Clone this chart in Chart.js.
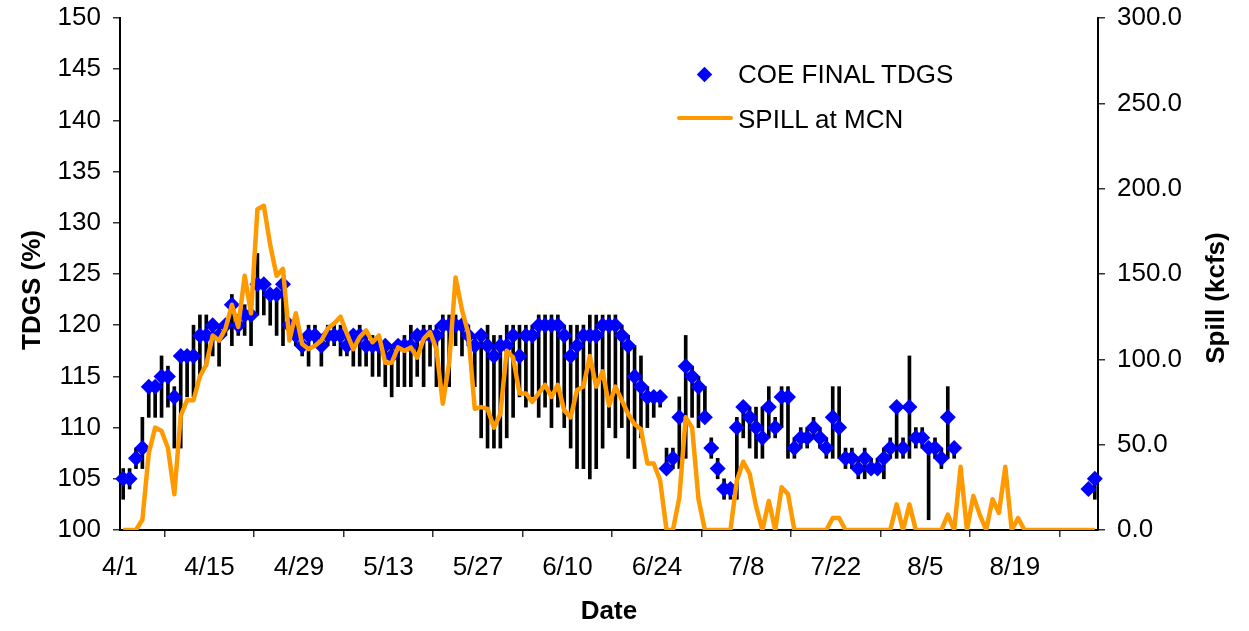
<!DOCTYPE html>
<html>
<head>
<meta charset="utf-8">
<script src="https://cdn.jsdelivr.net/npm/chart.js@4.4.1/dist/chart.umd.min.js"></script>
<style>
  html, body { margin: 0; padding: 0; background: #fff; }
  #wrap { position: relative; width: 1249px; height: 631px; }
  #legend, .titulo { font-family: "Liberation Sans", Arial, sans-serif; color: #000; }
  #legend { position: absolute; left: 0; top: 0; font-size: 26px; }
  #legend .txt { position: absolute; white-space: nowrap; line-height: 26px; }
  .diamond { position: absolute; width: 11px; height: 11px; background: #0000ff; transform: rotate(45deg); }
  .swatch { position: absolute; width: 56px; height: 4px; background: #ff9900; border-radius: 2px; }
  .titulo { position: absolute; font-size: 26px; font-weight: bold; white-space: nowrap; line-height: 30px;
            width: 300px; height: 30px; text-align: center; transform: rotate(-90deg); }
</style>
</head>
<body>
<div id="wrap">
  <canvas id="grafico" width="1249" height="631"></canvas>
  <div id="legend">
    <div class="diamond" style="left:699px; top:69px;"></div>
    <div class="txt" style="left:738px; top:61px;">COE FINAL TDGS</div>
    <div class="swatch" style="left:677px; top:116px;"></div>
    <div class="txt" style="left:738px; top:106px;">SPILL at MCN</div>
  </div>
  <div class="titulo" style="left:-119px; top:275px;">TDGS (%)</div>
  <div class="titulo" style="left:1065px; top:283px;">Spill (kcfs)</div>
</div>
<script>
// ====== DADOS ======
// dias contados a partir de 4/1 (indice 0 = 4/1)
const xTickLabels = ['4/1', '4/15', '4/29', '5/13', '5/27', '6/10', '6/24', '7/8', '7/22', '8/5', '8/19'];

// TDGS diario (%), null = sem dado
const tdgs = [
  105, 105, 107, 108, 114, 114, 115, 115, 113, 117,
  117, 117, 119, 119, 120, 119, 120, 122, 120, 121,
  121, 124, 124, 123, 123, 124, 120, 119, 118, 119,
  119, 118, 119, 119, 119, 118, 119, 119, 118, 118,
  118, 118, 117, 118, 118, 118, 119, 119, 119, 119,
  120, 120, 120, 120, 119, 118, 119, 118, 117, 118,
  118, 119, 117, 119, 119, 120, 120, 120, 120, 119,
  117, 118, 119, 119, 119, 120, 120, 120, 119, 118,
  115, 114, 113, 113, 113, 106, 107, 111, 116, 115,
  114, 111, 108, 106, 104, 104, 110, 112, 111, 110,
  109, 112, 110, 113, 113, 108, 109, 109, 110, 109,
  108, 111, 110, 107, 107, 106, 107, 106, 106, 107,
  108, 112, 108, 112, 109, 109, 108, 108, 107, 111,
  108, null, null, null, null, null, null, null, null, null,
  null, null, null, null, null, null, null, null, null, null,
  null, 104, 105
];

// minimo e maximo do dia (barras pretas)
const tdgsMin = [
  103, 104, 106, 106, 111, 111, 111, 112, 108, 108,
  113, 113, 115, 116, 117, 116, 119, 118, 119, 119,
  118, 121, 121, 120, 119, 118, 119, 118, 117, 116,
  118, 116, 118, 118, 117, 117, 116, 116, 116, 115,
  115, 114, 113, 114, 114, 114, 115, 114, 116, 114,
  114, 114, 118, 117, 118, 114, 109, 108, 108, 108,
  109, 111, 113, 112, 113, 111, 112, 110, 112, 110,
  108, 106, 106, 105, 106, 108, 110, 109, 110, 107,
  106, 109, 110, 111, 112, 106, 106, 106, 107, 111,
  110, 111, 107, 105, 103, 103, 103, 109, 108, 107,
  107, 109, 109, 110, 107, 107, 108, 108, 109, 108,
  107, 107, 107, 106, 106, 105, 105, 106, 106, 105,
  107, 107, 107, 107, 108, 108, 101, 107, 106, 107,
  107, null, null, null, null, null, null, null, null, null,
  null, null, null, null, null, null, null, null, null, null,
  null, 103.5, 103
];
const tdgsMax = [
  106, 106, 108, 111, 114, 114, 117, 116, 114, 117,
  117, 120, 121, 121, 120, 120, 120, 123, 120, 122,
  122, 127, 124, 123, 123, 124, 120, 120, 119, 120,
  120, 119, 120, 120, 120, 119, 119, 120, 119, 119,
  119, 118, 118, 118, 119, 120, 119, 120, 120, 120,
  121, 121, 121, 120, 120, 119, 119, 120, 119, 119,
  120, 120, 120, 120, 120, 121, 121, 121, 121, 120,
  120, 120, 120, 121, 121, 121, 121, 121, 120, 119,
  118, 117, 114, 113, 113, 108, 108, 113, 119, 116,
  115, 114, 109, 107, 105, 104, 111, 112, 112, 112,
  112, 114, 111, 114, 114, 109, 110, 110, 111, 110,
  109, 114, 114, 108, 108, 107, 108, 107, 107, 108,
  109, 112, 109, 117, 110, 110, 108, 109, 108, 114,
  108, null, null, null, null, null, null, null, null, null,
  null, null, null, null, null, null, null, null, null, null,
  null, 104.5, 105.5
];

// vertimento em MCN (kcfs)
const spill = [
  0, 0, 0, 6, 45, 60, 58, 48, 21, 67,
  76, 76, 90, 97, 114, 111, 118, 132, 119, 149,
  127, 188, 190, 167, 149, 153, 111, 127, 109, 106,
  108, 111, 118, 121, 125, 115, 106, 113, 117, 110,
  114, 98, 98, 107, 105, 107, 101, 112, 116, 106,
  74, 98, 148, 129, 115, 71, 72, 71, 60, 68,
  105, 101, 80, 80, 75, 80, 85, 78, 85, 70,
  66, 82, 84, 102, 84, 93, 73, 84, 76, 68,
  62, 59, 39, 39, 29, 0, 0, 19, 66, 60,
  18, 0, 0, 0, 0, 0, 29, 40, 33, 14,
  0, 17, 0, 25, 21, 0, 0, 0, 0, 0,
  0, 7, 7, 0, 0, 0, 0, 0, 0, 0,
  0, 15, 0, 15, 0, 0, 0, 0, 0, 9,
  0, 37, 0, 20, 9, 0, 18, 10, 37, 0,
  7, 0, 0, 0, 0, 0, 0, 0, 0, 0,
  0, 0, 0
];

// ====== GRAFICO ======
const fonte = '"Liberation Sans", Arial, sans-serif';
Chart.defaults.font.family = fonte;
Chart.defaults.color = '#000';

const pontos = [];
const barras = [];
tdgs.forEach((v, i) => {
  if (v === null) return;
  pontos.push({ x: i + 0.5, y: v });
  barras.push({ x: i + 0.5, y: [tdgsMin[i], tdgsMax[i]] });
});
const linhaSpill = spill.map((s, i) => ({ x: i + 0.5, y: s }));

const eixoGrid = { drawOnChartArea: false, drawTicks: true, tickLength: 7, color: '#333', lineWidth: 1.5 };
const eixoBorda = { display: true, color: '#000', width: 2 };

// eixo vertical com largura fixa e sem folga extra no topo
function fixaEixoY(largura) {
  return s => { s.width = largura; s.paddingTop = 0; s.paddingBottom = 0; };
}

const ctx = document.getElementById('grafico').getContext('2d');
const chart = new Chart(ctx, {
  type: 'scatter',
  data: {
    datasets: [
      {
        type: 'line', label: 'SPILL at MCN', data: linhaSpill, yAxisID: 'y1',
        borderColor: '#ff9900', borderWidth: 4.5, pointRadius: 0, tension: 0,
        fill: false, order: 1, borderJoinStyle: 'round'
      },
      {
        type: 'scatter', label: 'COE FINAL TDGS', data: pontos, yAxisID: 'y',
        pointStyle: 'rectRot', pointRadius: 8, backgroundColor: '#0000ff',
        borderColor: '#0000ff', borderWidth: 0, order: 2, clip: false
      },
      {
        type: 'bar', label: 'range', data: barras, yAxisID: 'y',
        backgroundColor: '#000', barThickness: 3, grouped: false, order: 3
      }
    ]
  },
  options: {
    responsive: false,
    animation: false,
    layout: { padding: { top: 18, left: 0, right: 0, bottom: 0 } },
    plugins: { legend: { display: false }, tooltip: { enabled: false } },
    scales: {
      x: {
        type: 'linear', min: 0, max: 153, offset: false,
        afterBuildTicks: s => { s.ticks = xTickLabels.map((_, i) => ({ value: i * 14 })); },
        afterFit: s => { s.height = 101; },
        ticks: { callback: (v, i) => xTickLabels[i], font: { size: 26 }, padding: 15, maxRotation: 0, autoSkip: false },
        grid: eixoGrid, border: eixoBorda,
        title: { display: true, text: 'Date', font: { size: 26, weight: 'bold', lineHeight: 0.8 }, padding: { top: 0, bottom: 9 } }
      },
      y: {
        position: 'left', min: 100, max: 150,
        afterFit: fixaEixoY(120),
        ticks: { stepSize: 5, font: { size: 26 }, padding: 12 },
        grid: eixoGrid, border: eixoBorda
      },
      y1: {
        position: 'right', min: 0, max: 300,
        afterFit: fixaEixoY(151),
        ticks: { stepSize: 50, font: { size: 26 }, padding: 12, callback: v => v.toFixed(1) },
        grid: eixoGrid, border: eixoBorda
      }
    }
  }
});
</script>
</body>
</html>
